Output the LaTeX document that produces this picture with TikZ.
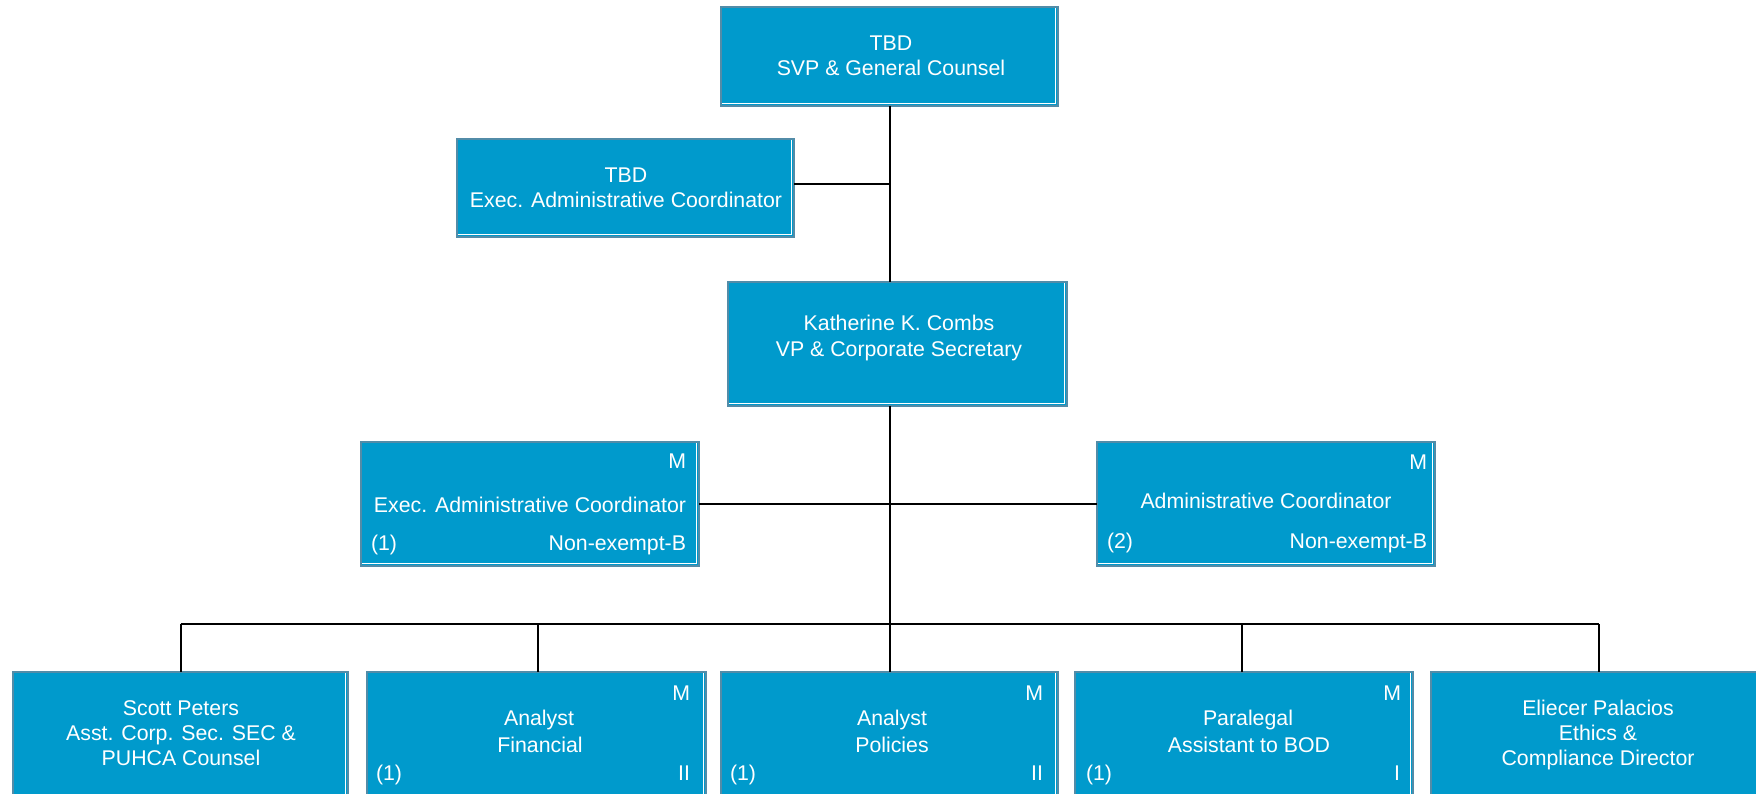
\documentclass[tikz,border=0pt]{standalone}
\usepackage{fontspec}
\setmainfont{Liberation Sans}
\definecolor{boxfill}{RGB}{0,154,204}
\definecolor{boxedge}{RGB}{82,140,168}
\begin{document}
\begin{tikzpicture}[x=1pt,y=-1pt,
  box/.style={draw=boxedge, fill=boxfill, line width=2pt, rectangle, anchor=north west,
    inner sep=0pt, outer sep=0pt,
    path picture={\draw[white, line width=1.2pt]
      ([xshift=-2.2pt]path picture bounding box.north east) --
      ([xshift=-2.2pt,yshift=2.2pt]path picture bounding box.south east) --
      ([yshift=2.2pt]path picture bounding box.south west);}},
  txt/.style={text=white, font=\fontsize{21.3}{25}\selectfont, inner sep=0pt, outer sep=0pt},
  conn/.style={line width=2pt, black}]
\useasboundingbox (0,0) rectangle (1756,793);

% boxes
\node[box, minimum width=337pt, minimum height=99pt] (top) at (721,7) {};
\node[box, minimum width=337pt, minimum height=98pt] (exec) at (457,139) {};
\node[box, minimum width=339pt, minimum height=124pt] (kath) at (728,282) {};
\node[box, minimum width=338pt, minimum height=124pt] (eac) at (361,442) {};
\node[box, minimum width=338pt, minimum height=124pt] (ac) at (1097,442) {};
\node[box, minimum width=335pt, minimum height=140pt] (b1) at (13,672) {};
\node[box, minimum width=339pt, minimum height=140pt] (b2) at (367,672) {};
\node[box, minimum width=337pt, minimum height=140pt] (b3) at (721,672) {};
\node[box, minimum width=338pt, minimum height=140pt] (b4) at (1075,672) {};
\node[box, minimum width=335pt, minimum height=140pt] (b5) at (1431,672) {};

% connectors
\coordinate (bus) at (890,624);
\draw[conn] (890,106) coordinate (topout) -- (topout |- kath.north);
\draw[conn] ([yshift=4pt]exec.east) coordinate (execout) -- (execout -| topout);
\draw[conn] (topout |- kath.south) -- (bus);
\draw[conn] (eac.east) -- (ac.west);
\draw[conn] (b1.north |- bus) -- (b5.north |- bus);
\draw[conn] (b1.north |- bus) -- (b1.north);
\draw[conn] (538,624) coordinate (b2in) -- (b2in |- b2.north);
\draw[conn] (bus) -- (bus |- b3.north);
\draw[conn] (1242,624) coordinate (b4in) -- (b4in |- b4.north);
\draw[conn] (b5.north |- bus) -- (b5.north);

% texts
\node[txt, anchor=base] (t1a) at (891,50) {TBD};
\node[txt, anchor=base] (t1b) at (891,75) {SVP \& General Counsel};
\node[txt, anchor=base] (t2a) at (626,182) {TBD};
\node[txt, anchor=base] (t2b) at (626,207) {Exec. Administrative Coordinator};
\node[txt, anchor=base] (t3a) at (899,330) {Katherine K. Combs};
\node[txt, anchor=base] (t3b) at (899,356) {VP \& Corporate Secretary};

\node[txt, anchor=base east] (t4m) at (686,468) {M};
\node[txt, anchor=base] (t4a) at (530,512) {Exec. Administrative Coordinator};
\node[txt, anchor=base west] (t4n) at (371,550) {(1)};
\node[txt, anchor=base east] (t4g) at (686,550) {Non-exempt-B};

\node[txt, anchor=base east] (t5m) at (1427,469) {M};
\node[txt, anchor=base] (t5a) at (1266,508) {Administrative Coordinator};
\node[txt, anchor=base west] (t5n) at (1107,548) {(2)};
\node[txt, anchor=base east] (t5g) at (1427,548) {Non-exempt-B};

\node[txt, anchor=base] (t6a) at (181,715) {Scott Peters};
\node[txt, anchor=base] (t6b) at (181,740) {Asst. Corp. Sec. SEC \&};
\node[txt, anchor=base] (t6c) at (181,765) {PUHCA Counsel};

\node[txt, anchor=base east] (t7m) at (690,700) {M};
\node[txt, anchor=base] (t7a) at (539,725) {Analyst};
\node[txt, anchor=base] (t7b) at (540,752) {Financial};
\node[txt, anchor=base west] (t7n) at (376,780) {(1)};
\node[txt, anchor=base east] (t7g) at (690,780) {II};

\node[txt, anchor=base east] (t8m) at (1043,700) {M};
\node[txt, anchor=base] (t8a) at (892,725) {Analyst};
\node[txt, anchor=base] (t8b) at (892,752) {Policies};
\node[txt, anchor=base west] (t8n) at (730,780) {(1)};
\node[txt, anchor=base east] (t8g) at (1043,780) {II};

\node[txt, anchor=base east] (t9m) at (1401,700) {M};
\node[txt, anchor=base] (t9a) at (1248,725) {Paralegal};
\node[txt, anchor=base] (t9b) at (1249,752) {Assistant to BOD};
\node[txt, anchor=base west] (t9n) at (1086,780) {(1)};
\node[txt, anchor=base east] (t9g) at (1400,780) {I};

\node[txt, anchor=base] (t10a) at (1598,715) {Eliecer Palacios};
\node[txt, anchor=base] (t10b) at (1598,740) {Ethics \&};
\node[txt, anchor=base] (t10c) at (1598,765) {Compliance Director};
\end{tikzpicture}
\end{document}
